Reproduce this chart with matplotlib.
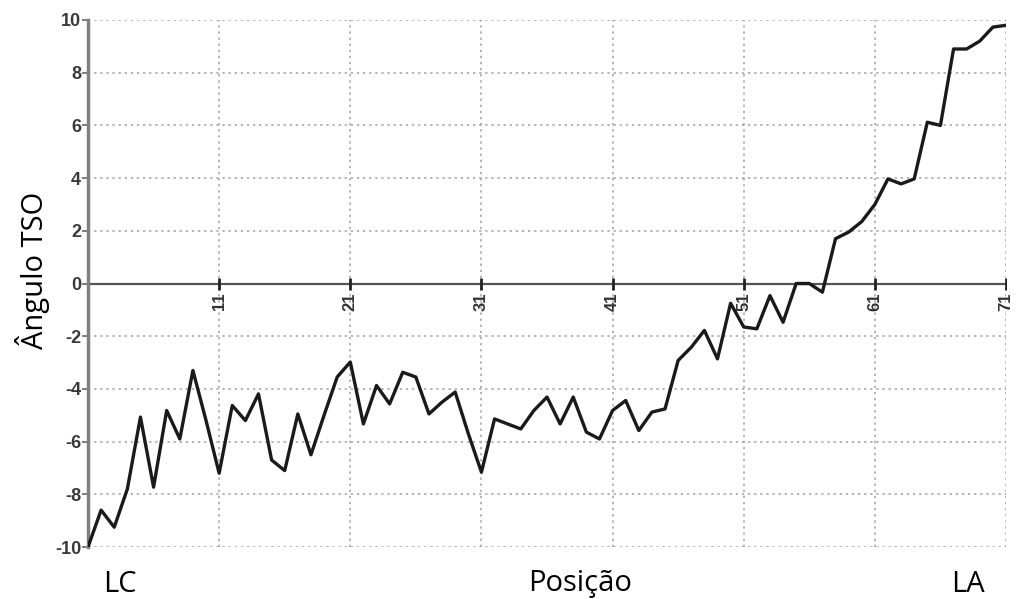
import matplotlib
matplotlib.use('Agg')
import matplotlib.pyplot as plt
import numpy as np

# posicao 1..71 e angulo TSO
posicao = np.arange(1, 72)
angulo = [-10.0, -8.6, -9.25, -7.8, -5.07, -7.73, -4.82, -5.9, -3.3, -5.2,
          -7.2, -4.63, -5.2, -4.19, -6.7, -7.1, -4.95, -6.5, -5.0, -3.55,
          -2.98, -5.33, -3.87, -4.57, -3.37, -3.55, -4.95, -4.5, -4.12, -5.7,
          -7.16, -5.14, -5.33, -5.52, -4.82, -4.31, -5.33, -4.31, -5.64, -5.9,
          -4.82, -4.44, -5.58, -4.88, -4.76, -2.92, -2.42, -1.78, -2.86, -0.75,
          -1.65, -1.72, -0.46, -1.47, 0.0, 0.0, -0.33, 1.7, 1.95, 2.35,
          3.0, 3.97, 3.78, 3.97, 6.12, 6.0, 8.9, 8.9, 9.2, 9.73,
          9.8]
xticks = [1, 11, 21, 31, 41, 51, 61, 71]
yticks = [-10, -8, -6, -4, -2, 0, 2, 4, 6, 8, 10]

fig = plt.figure(figsize=(10.17, 5.99), dpi=100)
ax = fig.add_axes([88/1017, 52/599, 918/1017, 527/599])

ax.plot(posicao, angulo, color='#1a1a1a', lw=2.4, zorder=3)
ax.axhline(0, color='#555555', lw=1.6, zorder=2)

ax.set_xlim(1, 71)
ax.set_ylim(-10, 10)
ax.set_xticks(xticks)
ax.set_xticklabels([])
ax.set_yticks(yticks)
ax.set_yticklabels([str(t) for t in yticks], fontsize=13, fontweight='bold',
                   color='#3a3a3a', family='Liberation Sans')
ax.tick_params(axis='x', length=0)
ax.tick_params(axis='y', length=4, width=1.2, color='#666666', pad=1)
ax.grid(True, linestyle=(0, (1.5, 2.5)), color='#a0a0a0', lw=1.1)

for s in ['top', 'right', 'bottom']:
    ax.spines[s].set_visible(False)
ax.spines['left'].set_color('#808080')
ax.spines['left'].set_linewidth(2.5)

# rotulos de posicao sobre a linha do zero
for t in xticks[1:]:
    ax.plot([t], [0], marker='|', color='#222222', ms=8, mew=2, zorder=4)
    ax.text(t, -0.35, str(t), rotation=90, ha='center', va='top',
            fontsize=12, fontweight='bold', color='#333333',
            family='Liberation Sans')

fig.text(33/1017, 1 - 270/599, 'Ângulo TSO', rotation=90, ha='center',
         va='center', fontsize=21, family='Open Sans')
fig.text(120/1017, 1 - 584/599, 'LC', ha='center', va='center',
         fontsize=21, family='Open Sans')
fig.text(580/1017, 1 - 584/599, 'Posição', ha='center', va='center',
         fontsize=21, family='Open Sans')
fig.text(968/1017, 1 - 584/599, 'LA', ha='center', va='center',
         fontsize=21, family='Open Sans')

fig.savefig('out.png', dpi=100)
